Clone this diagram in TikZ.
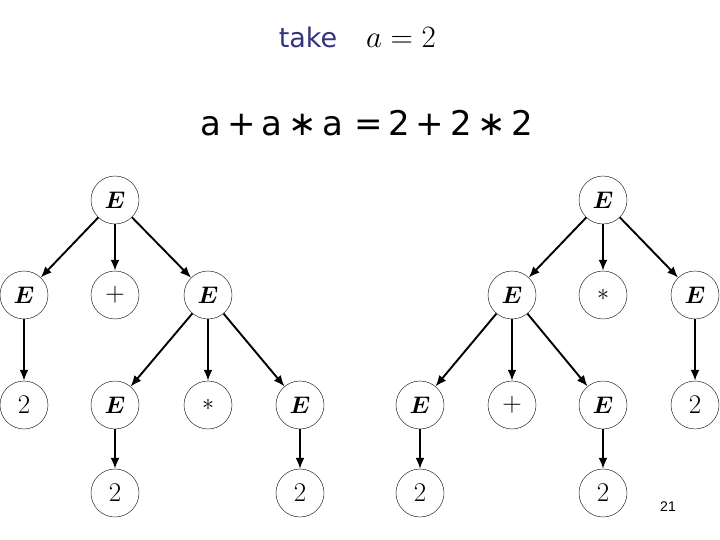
\RequirePackage{fix-cm}
\documentclass[tikz,border=0pt]{standalone}
\usepackage{amsmath}
\usepackage{fontspec}
\usepackage{tikz}
\usetikzlibrary{arrows.meta}
\newfontfamily\handfont{DejaVu Sans}
\newfontfamily\pagefont{Liberation Sans}
\definecolor{takeblue}{RGB}{51,51,128}

\begin{document}
\begin{tikzpicture}[x=1pt, y=-1pt,
    sym/.style={circle, draw, thin, minimum size=48pt, inner sep=0pt, font=\fontsize{24}{24}\selectfont},
    num/.style={sym, font=\fontsize{27}{27}\selectfont},
    edge/.style={-{Latex[length=11pt,width=9pt]}, line width=1.9pt}]
  \useasboundingbox (0,0) rectangle (720,540);
  % heading
  \node[font=\handfont\fontsize{27}{27}\selectfont, text=takeblue] (take) at (308,37) {take};
  \node[font=\fontsize{31}{31}\selectfont] (given) at (401,38) {$a=2$};
  \node[font=\handfont\fontsize{34}{34}\selectfont] (eq) at (367,123) {a\,+\,a\,∗\,a\,\,=\,2\,+\,2\,∗\,2};
  % left tree: a + (a * a)
  \node[sym] (l0) at (115,200) {$\boldsymbol{E}$};
  \node[sym] (l1) at (24,295) {$\boldsymbol{E}$};  \node[num] (l2) at (115,295) {$+$};
  \node[sym] (l3) at (208,295) {$\boldsymbol{E}$};
  \node[num] (l4) at (24,405) {$2$};  \node[sym] (l5) at (115,405) {$\boldsymbol{E}$};
  \node[sym] (l6) at (208,405) {$\ast$};  \node[sym] (l7) at (300,405) {$\boldsymbol{E}$};
  \node[num] (l8) at (115,493) {$2$};  \node[num] (l9) at (300,493) {$2$};
  \draw[edge] (l0) -- (l1); \draw[edge] (l0) -- (l2); \draw[edge] (l0) -- (l3);
  \draw[edge] (l1) -- (l4);
  \draw[edge] (l3) -- (l5); \draw[edge] (l3) -- (l6); \draw[edge] (l3) -- (l7);
  \draw[edge] (l5) -- (l8); \draw[edge] (l7) -- (l9);
  % right tree: (a + a) * a
  \node[sym] (r0) at (603,200) {$\boldsymbol{E}$};
  \node[sym] (r1) at (512,295) {$\boldsymbol{E}$};  \node[sym] (r2) at (603,295) {$\ast$};
  \node[sym] (r3) at (695,295) {$\boldsymbol{E}$};
  \node[sym] (r4) at (420,405) {$\boldsymbol{E}$};  \node[num] (r5) at (512,405) {$+$};
  \node[sym] (r6) at (603,405) {$\boldsymbol{E}$};  \node[num] (r7) at (695,405) {$2$};
  \node[num] (r8) at (420,493) {$2$};  \node[num] (r9) at (603,493) {$2$};
  \draw[edge] (r0) -- (r1); \draw[edge] (r0) -- (r2); \draw[edge] (r0) -- (r3);
  \draw[edge] (r1) -- (r4); \draw[edge] (r1) -- (r5); \draw[edge] (r1) -- (r6);
  \draw[edge] (r3) -- (r7);
  \draw[edge] (r4) -- (r8); \draw[edge] (r6) -- (r9);
  \node[font=\pagefont\fontsize{14}{14}\selectfont] (page) at (668,507) {21};
\end{tikzpicture}
\end{document}
